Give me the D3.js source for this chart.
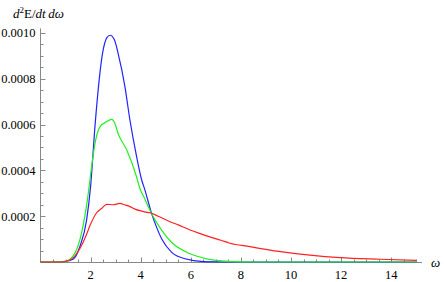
<!DOCTYPE html>
<html>
<head>
<meta charset="utf-8">
<script src="https://cdn.jsdelivr.net/npm/d3@7"></script>
<style>
  body { margin: 0; background: #fff; }
  svg { display: block; }
  text { font-family: "Liberation Serif", "DejaVu Serif", serif; }
</style>
</head>
<body>
<svg width="444" height="282"></svg>
<script>
// omega, value pairs
var blueData = [
  [0, 0], [0.6, 0], [1.0, 0.000003], [1.3, 0.000012], [1.58, 0.00007], [1.84, 0.000183],
  [2.0, 0.00033], [2.18, 0.0006], [2.48, 0.000913], [2.65, 0.00098], [2.78, 0.00099],
  [2.95, 0.00097], [3.1, 0.00091], [3.37, 0.000766], [3.57, 0.00062], [3.81, 0.000475],
  [4.04, 0.000358], [4.17, 0.000314], [4.44, 0.00021], [4.64, 0.00015], [4.84, 0.0001],
  [5.24, 0.000042], [5.77, 0.000014], [6.5, 0.000002], [7.5, 0], [15, 0]
];
var greenData = [
  [0, 0], [0.6, 0], [1.0, 0.000003], [1.38, 0.00004], [1.64, 0.000127], [1.87, 0.00027],
  [2.04, 0.000416], [2.18, 0.00052], [2.37, 0.00059], [2.6, 0.00061], [2.85, 0.000623],
  [2.95, 0.00061], [3.1, 0.00056], [3.44, 0.00049], [3.84, 0.00037], [3.97, 0.00032],
  [4.1, 0.00029], [4.44, 0.00021], [4.8, 0.000145], [5.24, 0.000085], [5.97, 0.000036],
  [6.63, 0.000014], [7.5, 0.000003], [8.5, 0], [15, 0]
];
var redData = [
  [0, 0], [0.8, 0], [1.18, 0.000009], [1.58, 0.00006], [1.8, 0.00011], [1.98, 0.00016],
  [2.24, 0.000215], [2.45, 0.000235], [2.64, 0.000252], [2.9, 0.00025], [3.17, 0.000256],
  [3.35, 0.00025], [3.57, 0.000242], [3.8, 0.00023], [3.97, 0.000224], [4.2, 0.000218],
  [4.37, 0.000215], [4.7, 0.0002], [5.17, 0.000176], [5.5, 0.000162], [5.97, 0.00014],
  [6.35, 0.000125], [6.76, 0.00011], [7.2, 0.000095], [7.56, 0.000082], [8.36, 0.000067],
  [9.16, 0.000052], [9.96, 0.00004], [10.76, 0.00003], [11.96, 0.000019], [13.55, 0.000012],
  [15, 0.000007]
];

var xTicks = [2, 4, 6, 8, 10, 12, 14];
var yTicks = [0.0002, 0.0004, 0.0006, 0.0008, 0.0010];

var svg = d3.select('svg');

var scaleX = d3.scaleLinear().domain([0, 15.23]).range([40.5, 422]);
var scaleY = d3.scaleLinear().domain([0, 0.00102]).range([262, 28.4]);

var axisColor = '#888';

// x axis, ticks point up
var xMinor = d3.range(0.5, 15.01, 0.5).filter(function (t) { return xTicks.indexOf(t) < 0; });
var gx = svg.append('g');
gx.append('line')
    .attr('x1', scaleX.range()[0]).attr('x2', scaleX.range()[1])
    .attr('y1', 262.5).attr('y2', 262.5)
    .attr('stroke', axisColor);
gx.selectAll('.minor').data(xMinor).enter().append('line')
    .attr('x1', function (d) { return Math.round(scaleX(d)) + 0.5; })
    .attr('x2', function (d) { return Math.round(scaleX(d)) + 0.5; })
    .attr('y1', 262).attr('y2', 259.5)
    .attr('stroke', axisColor);
gx.selectAll('.major').data(xTicks).enter().append('line')
    .attr('x1', function (d) { return Math.round(scaleX(d)) + 0.5; })
    .attr('x2', function (d) { return Math.round(scaleX(d)) + 0.5; })
    .attr('y1', 262).attr('y2', 257.5)
    .attr('stroke', axisColor);
gx.selectAll('text').data(xTicks).enter().append('text')
    .attr('x', function (d) { return scaleX(d); })
    .attr('y', 279)
    .attr('text-anchor', 'middle')
    .attr('font-size', 12.5)
    .text(function (d) { return d; });

// y axis, ticks point right
var yMinor = d3.range(1, 21).map(function (i) { return i * 0.00005; })
    .filter(function (t) { return Math.round(t * 1e5) % 20 !== 0; });
var gy = svg.append('g');
gy.append('line')
    .attr('x1', 40.5).attr('x2', 40.5)
    .attr('y1', scaleY.range()[0]).attr('y2', scaleY.range()[1])
    .attr('stroke', axisColor);
gy.selectAll('.minor').data(yMinor).enter().append('line')
    .attr('x1', 41).attr('x2', 43.5)
    .attr('y1', function (d) { return Math.round(scaleY(d)) + 0.5; })
    .attr('y2', function (d) { return Math.round(scaleY(d)) + 0.5; })
    .attr('stroke', axisColor);
gy.selectAll('.major').data(yTicks).enter().append('line')
    .attr('x1', 41).attr('x2', 45.5)
    .attr('y1', function (d) { return Math.round(scaleY(d)) + 0.5; })
    .attr('y2', function (d) { return Math.round(scaleY(d)) + 0.5; })
    .attr('stroke', axisColor);
gy.selectAll('text').data(yTicks).enter().append('text')
    .attr('x', 35.5)
    .attr('y', function (d) { return scaleY(d) + 4.5; })
    .attr('text-anchor', 'end')
    .attr('font-size', 12.5)
    .text(d3.format('.4f'));

// curves
var line = d3.line()
    .x(function (d) { return scaleX(d[0]); })
    .y(function (d) { return scaleY(d[1]); })
    .curve(d3.curveMonotoneX);

[[blueData, '#2222ff'], [greenData, '#22ee22'], [redData, '#ff2222']].forEach(function (s) {
  svg.append('path')
      .datum(s[0])
      .attr('d', line)
      .attr('fill', 'none')
      .attr('stroke', s[1])
      .attr('stroke-width', 1.2);
});

// axis labels
var yl = svg.append('text')
    .attr('x', 13)
    .attr('y', 17.5)
    .attr('font-size', 13);
yl.append('tspan').attr('font-style', 'italic').text('d');
yl.append('tspan').attr('font-size', 9).attr('dy', -5).text('2');
yl.append('tspan').attr('dy', 5).text('E/');
yl.append('tspan').attr('font-style', 'italic').text('dt\u2009d\u03c9');

svg.append('text')
    .attr('x', 431)
    .attr('y', 267)
    .attr('font-size', 13)
    .attr('font-style', 'italic')
    .text('\u03c9');
</script>
</body>
</html>
